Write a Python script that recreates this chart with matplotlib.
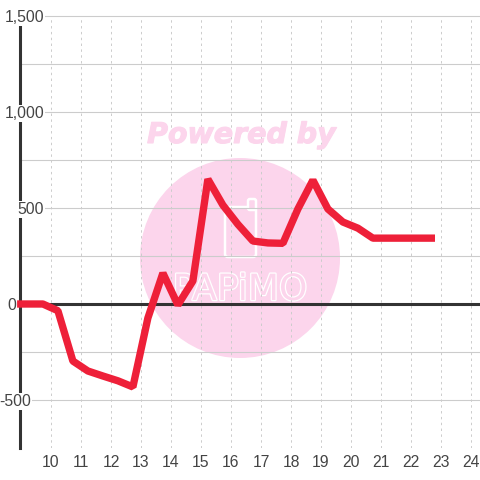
import matplotlib
matplotlib.use('Agg')
import matplotlib.pyplot as plt
import matplotlib.patheffects as pe
from matplotlib.patches import Ellipse, FancyBboxPatch

plt.rcParams['font.family'] = ['Liberation Sans', 'DejaVu Sans']

# Data
hours = [8.87, 9.23, 9.73, 10.23, 10.73, 11.23, 11.73, 12.23, 12.73, 13.23, 13.73, 14.23,
         14.73, 15.23, 15.73, 16.23, 16.73, 17.23, 17.73, 18.23, 18.73, 19.23, 19.73,
         20.23, 20.73, 21.23, 21.73, 22.23, 22.8]
values = [0, 0, 0, -35, -297, -349, -375, -400, -432, -73, 161, -5,
          120, 650, 515, 415, 328, 318, 316, 495, 645, 495, 427,
          395, 343, 343, 343, 343, 343]
x_ticks = list(range(10, 25))
y_major = [-500, 0, 500, 1000, 1500]
y_labels = ['-500', '0', '500', '1,000', '1,500']
y_grid = [-500, -250, 0, 250, 500, 750, 1000, 1250, 1500]
label_right = [31, 16, 44, 44, 44]  # right edge of each y label, px

fig = plt.figure(figsize=(4.8, 4.8), dpi=100)
ax = fig.add_axes([20 / 480, 32 / 480, 460 / 480, 432 / 480])
ax.set_xlim(8.967, 24.3)
ax.set_ylim(-750, 1500)

# watermark
ax.add_patch(Ellipse((240 / 480, 222 / 480), 200 / 480, 200 / 480, transform=fig.transFigure,
                     facecolor='#fcd5ec', edgecolor='none', zorder=0))
ax.add_patch(FancyBboxPatch((225 / 480, 223 / 480), 31 / 480, 50 / 480, transform=fig.transFigure,
                            boxstyle='round,pad=0,rounding_size=0.006', facecolor='none',
                            edgecolor='white', linewidth=1.8, zorder=0.5))
ax.add_patch(FancyBboxPatch((248 / 480, 270 / 480), 8 / 480, 11 / 480, transform=fig.transFigure,
                            boxstyle='round,pad=0,rounding_size=0.004', facecolor='#fcd5ec',
                            edgecolor='white', linewidth=1.8, zorder=0.5))
pw = fig.text(241.5 / 480, 345 / 480, 'Powered by', color='#fcd5ec', fontsize=20.5, fontweight='bold',
              fontstyle='italic', family='DejaVu Sans', ha='center', va='center', zorder=0.5)
pw.set_path_effects([pe.withStroke(linewidth=0.8, foreground='#fcd5ec')])
wm = ax.text(240 / 480, 190 / 480, 'PAPiMO', transform=fig.transFigure, color='#fcd5ec', fontsize=26,
             family='DejaVu Sans', ha='center', va='center', zorder=0.5)
wm.set_path_effects([pe.Stroke(linewidth=1.8, foreground='white'), pe.Normal()])

# grid
for v in y_grid:
    ax.axhline(v, color='#cccccc', linewidth=0.8, zorder=1, clip_on=False)
for t in x_ticks:
    ax.axvline(t, color='#cccccc', linewidth=0.7, linestyle=(0, (2.5, 3.5)), zorder=1)

ax.axhline(0, color='#333333', linewidth=2.2, zorder=2)
ax.plot(hours, values, color='#ee2039', linewidth=5.3, solid_joinstyle='bevel',
        solid_capstyle='butt', zorder=6, clip_on=False)

for s in ['top', 'right', 'bottom']:
    ax.spines[s].set_visible(False)
ax.spines['left'].set_color('#333333')
ax.spines['left'].set_linewidth(2.2)
ax.spines['left'].set_zorder(3)

ax.set_xticks(x_ticks)
ax.set_yticks([])
ax.tick_params(axis='x', length=0, pad=5, labelsize=11.3, labelcolor='#444444')

# y labels sit on top of the axis line
for v, lab, r in zip(y_major, y_labels, label_right):
    ax.annotate(lab, xy=(0, v), xycoords=('axes fraction', 'data'), xytext=((r - 20) * 0.72, -1.2),
                textcoords='offset points', ha='right', va='center', fontsize=11.3, color='#444444',
                zorder=5, annotation_clip=False,
                bbox=dict(facecolor='white', edgecolor='none', pad=0.6))

fig.savefig('out.png', dpi=100)
